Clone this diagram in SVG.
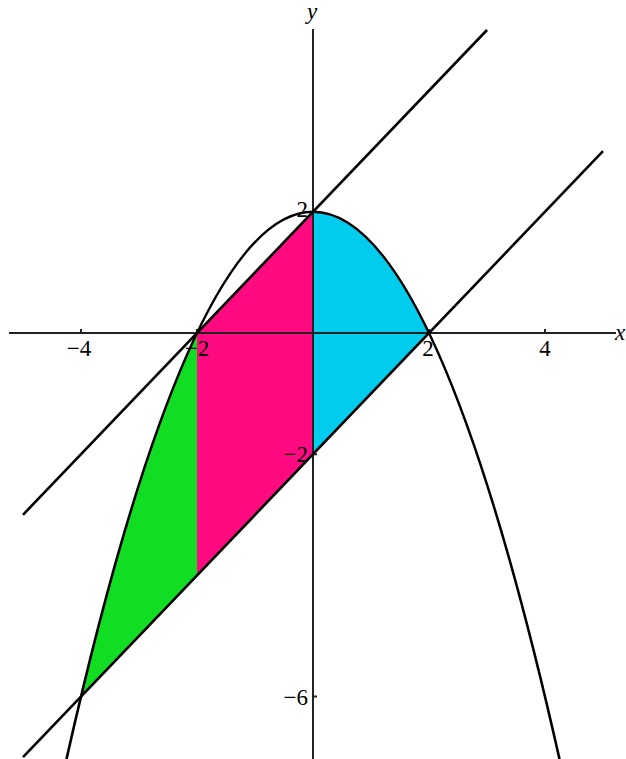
<svg xmlns="http://www.w3.org/2000/svg" width="626" height="759" viewBox="0 0 626 759">
<style>
.axis{stroke:#222;stroke-width:2;fill:none}
.curve{stroke:#000;stroke-width:2.6;fill:none;stroke-linecap:butt}
text{font-family:'Liberation Serif','DejaVu Serif',serif;font-size:23px;fill:#000}
.xl{text-anchor:middle}
.yl{text-anchor:end}
.it{font-style:italic}
</style>
<rect width="626" height="759" fill="#fff"/>
<g id="regions">
<path id="cyan" d="M313,211.8 Q371,211.8 429,333 L313,454.2 Z" fill="#00CCEE"/>
<path id="magenta" d="M197,333 L313,211.8 L313,454.2 L197,575.4 Z" fill="#FF0A80"/>
<path id="green" d="M81,696.6 Q139,454.2 197,333 L197,575.4 Z" fill="#11DD22"/>
</g>
<g id="axes">
<line class="axis" x1="9" y1="333" x2="616" y2="333"/>
<line class="axis" x1="313" y1="29" x2="313" y2="759"/>
<path class="axis" d="M81,333 V329 M197,333 V329 M429,333 V329 M545,333 V329 M313,211.8 H317 M313,454.2 H317 M313,696.6 H317"/>
</g>
<g id="curves">
<path id="parabola" class="curve" d="M66.5,759.1 Q313,-335.5 559.5,759.1"/>
<line id="line-upper" class="curve" x1="23" y1="514.8" x2="487" y2="30"/>
<line id="line-lower" class="curve" x1="23" y1="757.2" x2="603" y2="151.2"/>
</g>
<g id="labels" font-family="Liberation Serif, DejaVu Serif, serif">
<text class="it xl" x="312" y="19">y</text>
<text class="it" x="615" y="340">x</text>
<text class="xl" x="79" y="356">−4</text>
<text class="xl" x="197" y="356">−2</text>
<text class="xl" x="428" y="356">2</text>
<text class="xl" x="545" y="356">4</text>
<text class="yl" x="308" y="217">2</text>
<text class="yl" x="308" y="462">−2</text>
<text class="yl" x="308" y="705">−6</text>
</g>
</svg>
